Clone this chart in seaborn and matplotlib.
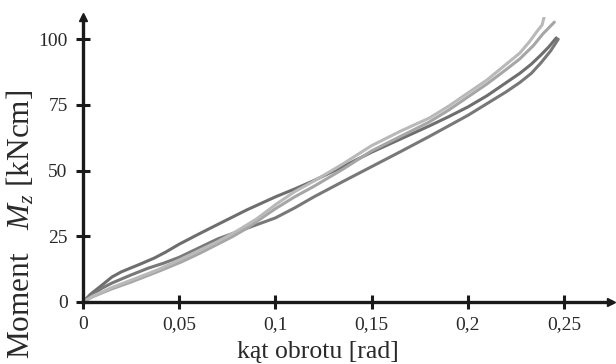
import numpy as np
import pandas as pd
import matplotlib
matplotlib.use("Agg")
import matplotlib.pyplot as plt
import seaborn as sns

# rotation angle [rad] and moment [kNcm], four test curves
x_c1 = [0, 0.004, 0.01, 0.015, 0.02, 0.03, 0.037, 0.043, 0.05, 0.06, 0.07, 0.085, 0.1, 0.11,
        0.12, 0.135, 0.15, 0.165, 0.18, 0.19, 0.2, 0.21, 0.22, 0.227, 0.233, 0.238, 0.242, 0.246]
y_c1 = [0, 3.0, 6.5, 9.5, 11.5, 14.5, 16.7, 19.0, 22.0, 25.8, 29.5, 35.0, 40.0, 43.0,
        46.2, 51.5, 57.0, 62.0, 67.0, 70.5, 74.2, 78.5, 83.5, 87.0, 90.5, 94.0, 97.0, 100.5]

x_c2 = [0, 0.005, 0.01, 0.015, 0.025, 0.034, 0.042, 0.05, 0.06, 0.07, 0.085, 0.1, 0.11, 0.12,
        0.135, 0.15, 0.165, 0.18, 0.19, 0.2, 0.21, 0.22, 0.227, 0.233, 0.238, 0.243, 0.247]
y_c2 = [0, 2.8, 5.3, 7.2, 10.3, 12.9, 14.8, 17.0, 20.5, 24.0, 28.0, 32.0, 35.8, 40.0,
        45.8, 51.5, 57.2, 63.0, 67.0, 71.0, 75.5, 80.0, 83.5, 87.0, 91.0, 95.5, 100.0]

x_c3 = [0, 0.005, 0.015, 0.025, 0.038, 0.051, 0.06, 0.07, 0.078, 0.085, 0.092, 0.1, 0.11, 0.12,
        0.135, 0.15, 0.165, 0.18, 0.19, 0.2, 0.21, 0.22, 0.227, 0.234, 0.239, 0.245]
y_c3 = [0, 2.0, 5.0, 7.6, 11.3, 15.2, 18.3, 22.0, 25.0, 28.0, 31.5, 35.5, 40.0, 44.0,
        50.5, 57.5, 63.0, 68.5, 73.0, 78.0, 83.0, 88.5, 92.5, 97.5, 102.0, 106.5]

x_c4 = [0, 0.005, 0.015, 0.025, 0.038, 0.05, 0.06, 0.07, 0.08, 0.09, 0.1, 0.11, 0.12, 0.135,
        0.15, 0.165, 0.18, 0.19, 0.2, 0.21, 0.22, 0.227, 0.232, 0.236, 0.2386, 0.2402]
y_c4 = [0, 2.2, 5.5, 8.3, 12.0, 16.0, 19.5, 23.0, 27.0, 31.5, 37.0, 42.0, 46.0, 52.5,
        59.5, 65.0, 70.0, 74.5, 79.5, 84.5, 90.5, 94.7, 99.0, 103.0, 105.4, 110.0]

x_ticks = [0, 0.05, 0.1, 0.15, 0.2, 0.25]
x_tick_labels = ["0", "0,05", "0,1", "0,15", "0,2", "0,25"]
y_ticks = [0, 25, 50, 75, 100]
y_tick_labels = ["0", "25", "50", "75", "100"]

curves = {"c1": (x_c1, y_c1), "c2": (x_c2, y_c2), "c3": (x_c3, y_c3), "c4": (x_c4, y_c4)}
frames = []
for name, (xs, ys) in curves.items():
    frames.append(pd.DataFrame({"kat": xs, "moment": ys, "probka": name}))
data = pd.concat(frames, ignore_index=True)

palette = {"c1": "#6e6e6e", "c2": "#787878", "c3": "#a6a6a6", "c4": "#b9b9b9"}

sns.set_style("ticks")
plt.rcParams["font.family"] = ["Liberation Serif", "DejaVu Serif"]
plt.rcParams["mathtext.fontset"] = "custom"
plt.rcParams["mathtext.rm"] = "Liberation Serif"
plt.rcParams["mathtext.it"] = "Liberation Serif:italic"

fig = plt.figure(figsize=(6.16, 3.64), dpi=100)
ax = fig.add_axes([83 / 616, 1 - 302 / 364, (611 - 83) / 616, (302 - 17) / 364])

sns.lineplot(data=data, x="kat", y="moment", hue="probka", palette=palette,
             sort=False, estimator=None, linewidth=2.2, legend=False, ax=ax)
ax.set_xlabel("")
ax.set_ylabel("")

ax.set_xlim(0, (611 - 83) / 1924)
ax.set_ylim(0, (302 - 17) / 2.628)

ax.set_xticks(x_ticks)
ax.set_xticklabels(x_tick_labels)
ax.set_yticks(y_ticks)
ax.set_yticklabels(y_tick_labels)
ax.tick_params(direction="inout", length=10, width=2.2, color="#1a1a1a",
               labelsize=14, labelcolor="#2a2a2a")
ax.tick_params(axis="x", pad=5)
ax.tick_params(axis="y", pad=6)

for side in ["top", "right"]:
    ax.spines[side].set_visible(False)
for side in ["left", "bottom"]:
    ax.spines[side].set_linewidth(2.4)
    ax.spines[side].set_color("#1a1a1a")

# arrow heads at the end of both axes
ax.plot(1, 0, ">", color="#1a1a1a", markersize=6, transform=ax.transAxes, clip_on=False)
ax.plot(0, 1, "^", color="#1a1a1a", markersize=6, transform=ax.transAxes, clip_on=False)

fig.text(318 / 616, 1 - 352 / 364, "kąt obrotu [rad]", fontsize=18.5, color="#2a2a2a",
         ha="center", va="center")
fig.text(21 / 616, 1 - 224 / 364, r"Moment   $M_z$ [kNcm]", fontsize=22.5, color="#2a2a2a",
         ha="center", va="center", rotation=90)

fig.savefig("out.png", dpi=100)
